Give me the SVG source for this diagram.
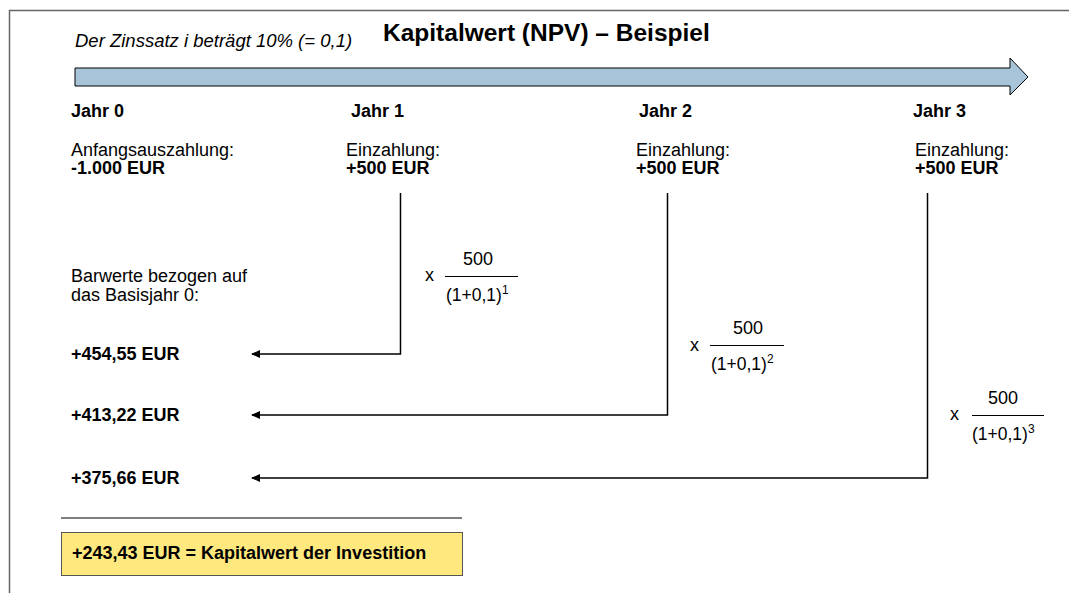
<svg xmlns="http://www.w3.org/2000/svg" width="1069" height="593" viewBox="0 0 1069 593">
<style>
text{font-family:"Liberation Sans",Arial,sans-serif;fill:#000}
.b{font-weight:bold;font-size:18px}
.n{font-size:18px}
.f{font-size:18px}
.d{font-size:17.5px}
.s{font-size:12px}
.c{stroke:#000;stroke-width:1.5;fill:none}
.frac{stroke:#000;stroke-width:1}
</style>
<defs>
<marker id="ah" viewBox="0 0 10 10" refX="9" refY="5" markerWidth="9" markerHeight="9" markerUnits="userSpaceOnUse" orient="auto">
<path d="M0,0.5 L10,5 L0,9.5 Z" fill="#000"/>
</marker>
</defs>
<g id="frame">
<path d="M9.5,593 L9.5,10.5 L1069,10.5" fill="none" stroke="#666" stroke-width="1.5"/>
</g>
<g id="title">
<text x="383" y="41" style="font-size:24.5px;font-weight:bold">Kapitalwert (NPV) – Beispiel</text>
<text x="75" y="47" style="font-size:18.5px;font-style:italic">Der Zinssatz i beträgt 10% (= 0,1)</text>
</g>
<g id="timeline">
<path d="M75,68 L1010,68 L1010,58 L1028,77 L1010,95 L1010,86 L75,86 Z" fill="#A8C4D9" stroke="#000" stroke-width="1"/>
</g>
<g id="jahr0">
<text class="b" x="71" y="117">Jahr 0</text>
<text class="n" x="71" y="155.5">Anfangsauszahlung:</text>
<text class="b" x="71" y="174">-1.000 EUR</text>
</g>
<g id="jahr1">
<text class="b" x="351" y="117">Jahr 1</text>
<text class="n" x="346" y="155.5">Einzahlung:</text>
<text class="b" x="346" y="174">+500 EUR</text>
</g>
<g id="jahr2">
<text class="b" x="639" y="117">Jahr 2</text>
<text class="n" x="636" y="155.5">Einzahlung:</text>
<text class="b" x="636" y="174">+500 EUR</text>
</g>
<g id="jahr3">
<text class="b" x="913" y="117">Jahr 3</text>
<text class="n" x="915" y="155.5">Einzahlung:</text>
<text class="b" x="915" y="174">+500 EUR</text>
</g>
<g id="barwerte">
<text class="n" x="71" y="282">Barwerte bezogen auf</text>
<text class="n" x="71" y="300.5">das Basisjahr 0:</text>
<text class="b" x="71" y="360">+454,55 EUR</text>
<text class="b" x="71" y="421">+413,22 EUR</text>
<text class="b" x="71" y="484">+375,66 EUR</text>
</g>
<g id="connectors">
<path class="c" d="M400.5,193 L400.5,354 L252,354" marker-end="url(#ah)"/>
<path class="c" d="M667.5,193 L667.5,415 L252,415" marker-end="url(#ah)"/>
<path class="c" d="M927.5,193 L927.5,478 L252,478" marker-end="url(#ah)"/>
</g>
<g id="frac1">
<text class="f" x="425" y="281">x</text>
<text class="f" x="478" y="265" text-anchor="middle">500</text>
<line class="frac" x1="445" y1="276.5" x2="518" y2="276.5"/>
<text class="d" x="446" y="301">(1+0,1)<tspan class="s" dy="-7">1</tspan></text>
</g>
<g id="frac2">
<text class="f" x="690" y="351">x</text>
<text class="f" x="748" y="334" text-anchor="middle">500</text>
<line class="frac" x1="710" y1="345.5" x2="784" y2="345.5"/>
<text class="d" x="711" y="370">(1+0,1)<tspan class="s" dy="-7">2</tspan></text>
</g>
<g id="frac3">
<text class="f" x="950" y="420">x</text>
<text class="f" x="1003" y="404" text-anchor="middle">500</text>
<line class="frac" x1="972" y1="415.5" x2="1044" y2="415.5"/>
<text class="d" x="972" y="440">(1+0,1)<tspan class="s" dy="-7">3</tspan></text>
</g>
<g id="sum">
<line x1="61" y1="518" x2="462" y2="518" stroke="#555" stroke-width="1.5"/>
<rect x="61.5" y="532.5" width="401" height="43" fill="#FFE97F" stroke="#555" stroke-width="1"/>
<text class="b" x="72" y="559">+243,43 EUR = Kapitalwert der Investition</text>
</g>
</svg>
